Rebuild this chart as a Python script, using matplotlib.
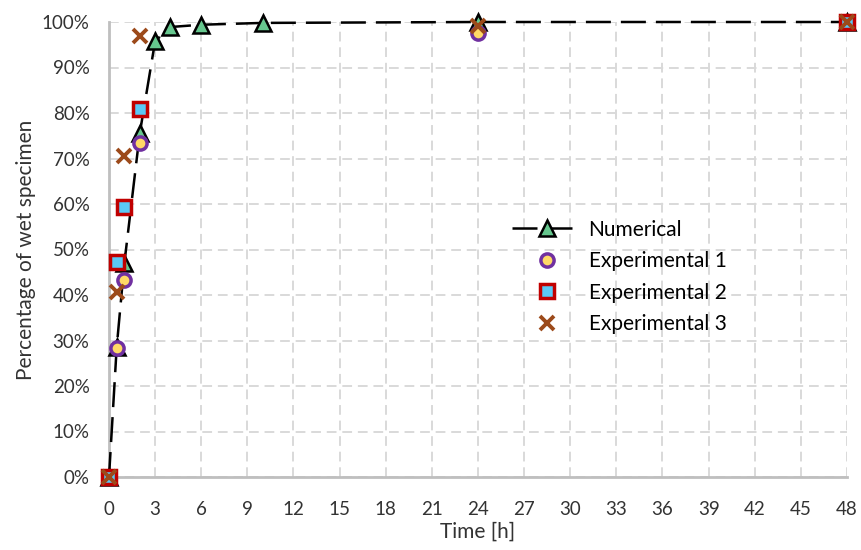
import matplotlib.pyplot as plt
from matplotlib.ticker import PercentFormatter

plt.rcParams['font.family'] = ['Lato', 'DejaVu Sans']

# numerical model
t_num = [0, 0.5, 1, 2, 3, 4, 6, 10, 24, 48]
wet_num = [0, 28.5, 47.0, 75.5, 95.8, 98.9, 99.4, 99.8, 100, 100]

# experiments
t_exp1 = [0, 0.5, 1, 2, 24, 48]
wet_exp1 = [0, 28.3, 43.4, 73.3, 97.6, 100]

t_exp2 = [0, 0.5, 1, 2, 48]
wet_exp2 = [0, 47.3, 59.4, 80.8, 100]

t_exp3 = [0, 0.5, 1, 2, 24, 48]
wet_exp3 = [0, 40.7, 70.6, 96.9, 99.2, 100]

x_ticks = list(range(0, 49, 3))

fig = plt.figure(figsize=(8.61, 5.5), dpi=100)
ax = fig.add_axes([109 / 861, 73 / 550, 738 / 861, 455 / 550])

ax.plot(t_num, wet_num, color='black', lw=1.8, dashes=(10, 4),
        marker='^', ms=11, mfc='#66c78e', mec='black', mew=1.8,
        label='Numerical', clip_on=False, zorder=3)
ax.plot(t_exp1, wet_exp1, ls='none', marker='o', ms=9.5,
        mfc='#ffd966', mec='#7030a0', mew=2.5,
        label='Experimental 1', clip_on=False, zorder=4)
ax.plot(t_exp2, wet_exp2, ls='none', marker='s', ms=9.5,
        mfc='#5bc8f5', mec='#c00000', mew=2.5,
        label='Experimental 2', clip_on=False, zorder=5)
ax.plot(t_exp3, wet_exp3, ls='none', marker='x', ms=10.5,
        mec='#9c4a1a', mew=2.8,
        label='Experimental 3', clip_on=False, zorder=6)

ax.set_xlim(0, 48)
ax.set_ylim(0, 100)
ax.set_xticks(x_ticks)
ax.set_yticks(range(0, 101, 10))
ax.yaxis.set_major_formatter(PercentFormatter(decimals=0))

ax.grid(True, color='#d9d9d9', ls=(0, (5, 3)), lw=1.4)
ax.set_axisbelow(True)
for side in ('top', 'right'):
    ax.spines[side].set_visible(False)
for side in ('left', 'bottom'):
    ax.spines[side].set_color('#bfbfbf')
    ax.spines[side].set_linewidth(2)
ax.tick_params(length=0, labelsize=13.5, colors='#333333')
ax.tick_params(axis='x', pad=17)
ax.tick_params(axis='y', pad=14)

ax.set_xlabel('Time [h]', fontsize=15, color='#333333', labelpad=3)
ax.set_ylabel('Percentage of wet specimen', fontsize=15, color='#333333', labelpad=4)

ax.legend(loc='center left', bbox_to_anchor=(0.52, 0.44), frameon=False,
          fontsize=15, handlelength=3.4, labelspacing=0.55, handletextpad=0.3)

fig.savefig('out.png', dpi=100)
